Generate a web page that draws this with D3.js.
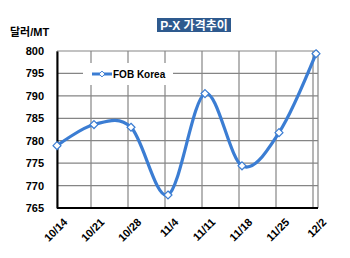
<!DOCTYPE html>
<html>
<head>
<meta charset="utf-8">
<script src="https://cdn.jsdelivr.net/npm/d3@7"></script>
<style>
  body { margin: 0; background: #fff; }
  text { font-family: Arial, "Liberation Sans", "Noto Sans CJK KR", sans-serif; font-weight: bold; }
</style>
</head>
<body>
<div id="chart-area"></div>
<script>
// data
var dates = ["10/14", "10/21", "10/28", "11/4", "11/11", "11/18", "11/25", "12/2"];
var fobKorea = [778.9, 783.6, 783.0, 767.9, 790.5, 774.4, 781.8, 799.4];
var yTicks = [765, 770, 775, 780, 785, 790, 795, 800];

var W = 350, H = 258;
var plotLeft = 57, plotRight = 318, plotTop = 51, plotBottom = 208;

var svg = d3.select("#chart-area")
    .append("svg")
    .attr("width", W)
    .attr("height", H);

var data = dates.map(function(d, i) { return { date: d, value: fobKorea[i] }; });

// X Scale
var x = d3.scalePoint()
    .domain(dates)
    .range([plotLeft, 316]);

// Y Scale
var y = d3.scaleLinear()
    .domain([765, 800])
    .range([plotBottom, plotTop]);

// grid
var grid = svg.append("g").attr("stroke", "#858585").attr("stroke-width", 1.2);
yTicks.forEach(function(t) {
    grid.append("line")
        .attr("x1", plotLeft).attr("x2", plotRight)
        .attr("y1", y(t)).attr("y2", y(t));
});
dates.forEach(function(d, i) {
    var gx = i === 0 ? plotLeft : x(d) - 3;
    grid.append("line")
        .attr("x1", gx).attr("x2", gx)
        .attr("y1", plotTop).attr("y2", plotBottom);
});
grid.append("line").attr("x1", plotRight).attr("x2", plotRight).attr("y1", plotTop).attr("y2", plotBottom);

// Y Axis
var yAxisGroup = svg.append("g")
    .attr("transform", "translate(" + plotLeft + ",0)")
    .call(d3.axisLeft(y).tickValues(yTicks).tickSize(0).tickPadding(13));
yAxisGroup.select(".domain").attr("stroke", "#000").attr("stroke-width", 2);
yAxisGroup.selectAll("text").attr("font-size", "11px").attr("fill", "#000");

// X Axis
var xAxisGroup = svg.append("g")
    .attr("transform", "translate(0," + plotBottom + ")")
    .call(d3.axisBottom(x).tickSize(0));
xAxisGroup.select(".domain").attr("stroke", "#000").attr("stroke-width", 2)
    .attr("d", "M" + plotLeft + ",0H" + plotRight);
xAxisGroup.selectAll("text")
    .attr("font-size", "11px")
    .attr("fill", "#000")
    .attr("text-anchor", "end")
    .attr("x", -3)
    .attr("y", 18)
    .attr("dy", 0)
    .attr("transform", "rotate(-45)");

// unit label
svg.append("text")
    .attr("x", 10)
    .attr("y", 36)
    .attr("font-size", "11px")
    .text("달러/MT");

// title
svg.append("rect")
    .attr("x", 157).attr("y", 18)
    .attr("width", 74).attr("height", 14)
    .attr("fill", "#2e5a8e");
svg.append("text")
    .attr("x", 194).attr("y", 29.5)
    .attr("text-anchor", "middle")
    .attr("font-size", "12px")
    .attr("fill", "#fff")
    .text("P-X 가격추이");

// legend
svg.append("rect")
    .attr("x", 83).attr("y", 63)
    .attr("width", 90).attr("height", 22)
    .attr("fill", "#fff");
svg.append("line")
    .attr("x1", 92).attr("x2", 112)
    .attr("y1", 74).attr("y2", 74)
    .attr("stroke", "#3b7dd3").attr("stroke-width", 3);
svg.append("path")
    .attr("d", d3.symbol(d3.symbolDiamond2, 22)())
    .attr("transform", "translate(102,74)")
    .attr("fill", "#fff").attr("stroke", "#3b7dd3").attr("stroke-width", 1);
svg.append("text")
    .attr("x", 113).attr("y", 78)
    .attr("font-size", "10px")
    .text("FOB Korea");

// line
var line = d3.line()
    .x(function(d) { return x(d.date); })
    .y(function(d) { return y(d.value); })
    .curve(d3.curveCardinal.tension(0));

svg.append("path")
    .datum(data)
    .attr("fill", "none")
    .attr("stroke", "#3b7dd3")
    .attr("stroke-width", 3.2)
    .attr("d", line);

svg.selectAll(".pt")
    .data(data)
    .enter()
    .append("path")
    .attr("class", "pt")
    .attr("d", d3.symbol(d3.symbolDiamond2, 40)())
    .attr("transform", function(d) { return "translate(" + x(d.date) + "," + y(d.value) + ")"; })
    .attr("fill", "#fff")
    .attr("stroke", "#3b7dd3")
    .attr("stroke-width", 1.2);
</script>
</body>
</html>
